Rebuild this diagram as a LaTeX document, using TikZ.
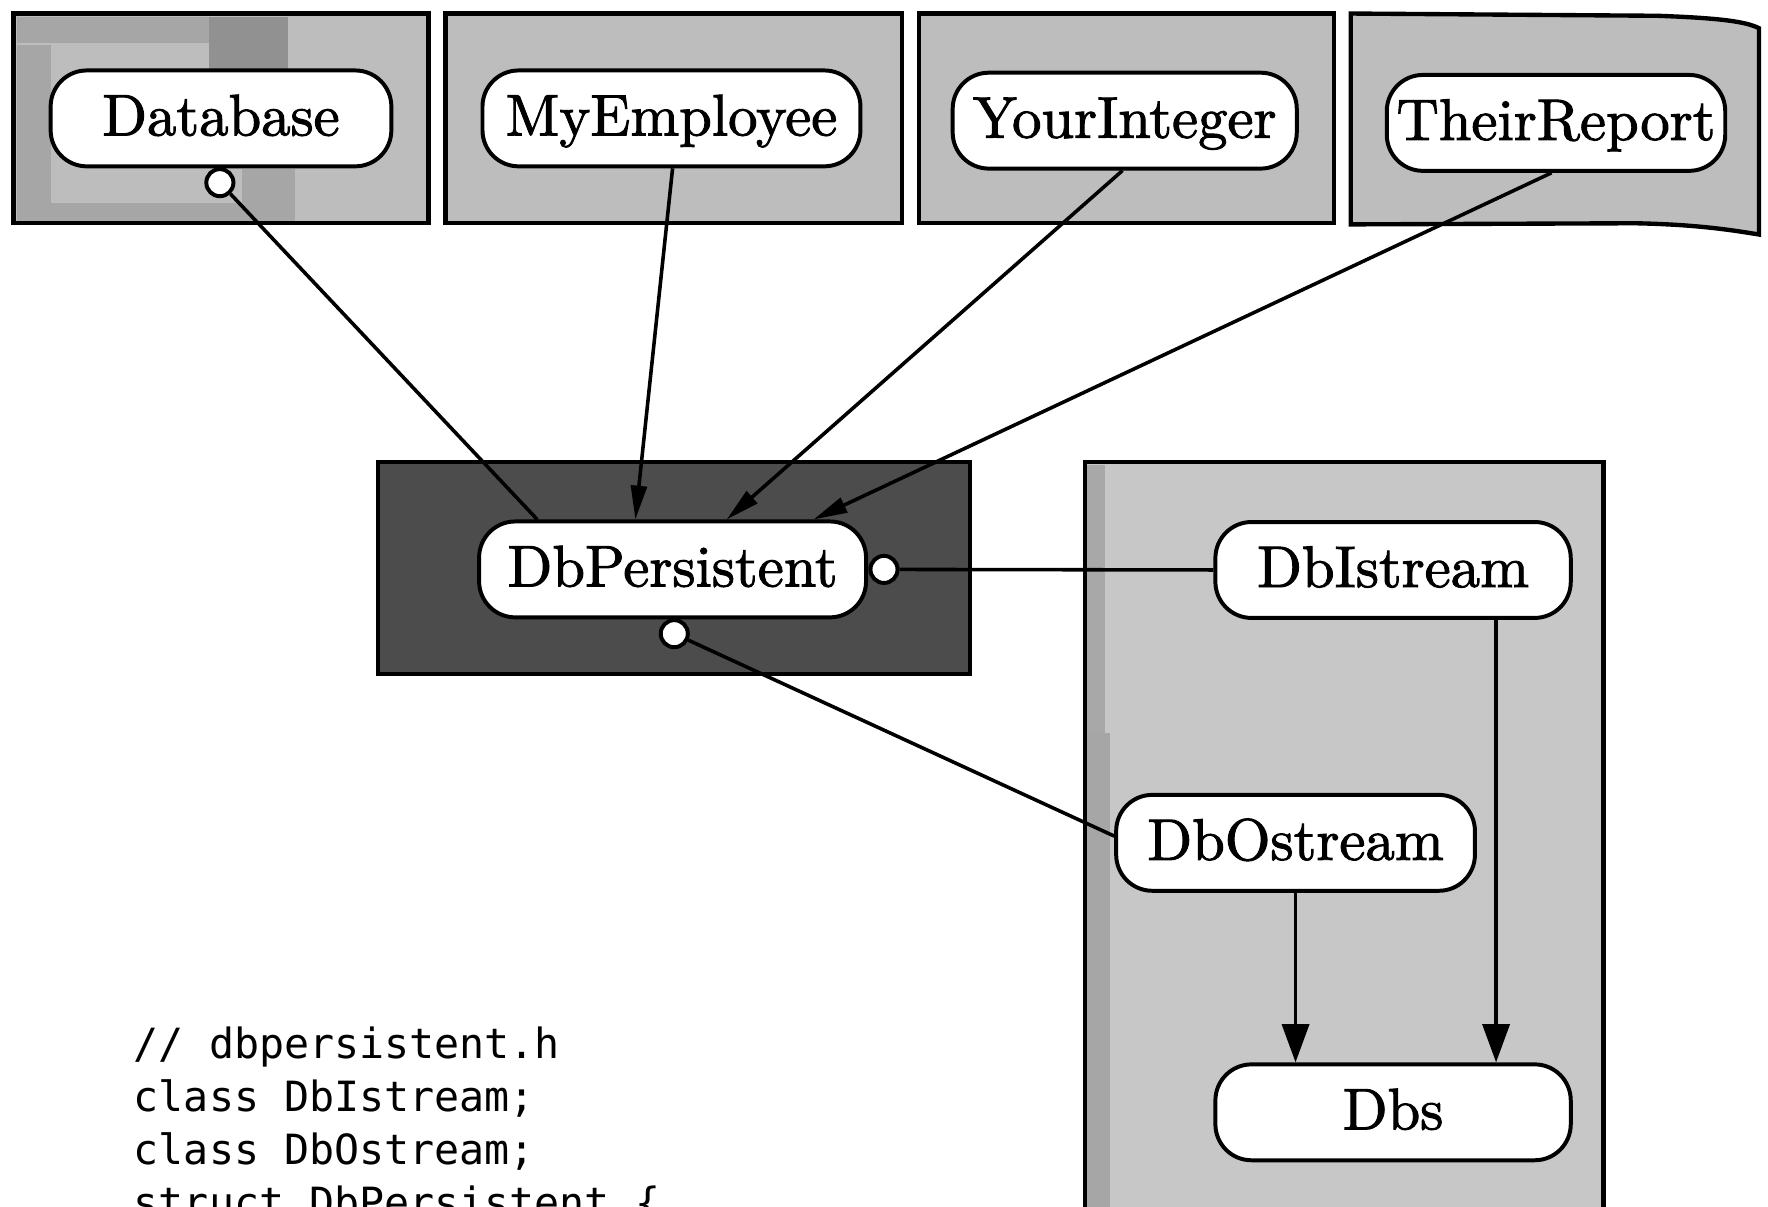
\documentclass[tikz,border=0pt]{standalone}
\usepackage{fontspec}
\newfontfamily\codefont{DejaVu Sans Mono}
\newfontfamily\nodefont[FakeBold=1.6]{lmroman10-regular.otf}
\usetikzlibrary{arrows.meta,calc}
\definecolor{lightbox}{gray}{0.74}
\definecolor{darkbox}{gray}{0.30}
\definecolor{rightbox}{gray}{0.78}
\definecolor{patch}{gray}{0.65}
\definecolor{blob}{gray}{0.57}
\definecolor{band}{gray}{0.66}
\begin{document}
\begin{tikzpicture}[x=0.01cm,y=-0.01cm,
  cls/.style={draw, fill=white, line width=1pt, rounded corners=0.32cm,
    minimum height=0.85cm, inner sep=0pt, text height=11pt, text depth=2.4pt,
    font=\nodefont\fontsize{14.8}{17}\selectfont},
  port/.style={circle, draw, fill=white, line width=1pt, minimum size=0.24cm, inner sep=0pt},
  box/.style={draw, line width=1.1pt},
  link/.style={line width=0.9pt},
  into/.style={link, -{Triangle[length=0.3cm,width=0.14cm]}},
  down/.style={link, -{Triangle[length=0.34cm,width=0.24cm]}},
  code/.style={anchor=base west, inner sep=0pt, font=\codefont\fontsize{10.5}{13}\selectfont}]
\useasboundingbox (0,0) rectangle (1568,1070);
\fill[white] (0,0) rectangle (1568,1070);
\clip (0,0) rectangle (1568,1070);

% ---- background boxes ----
\fill[lightbox] (12,12) rectangle (380,198);
\fill[patch] (15,15) rectangle (250,38);
\fill[blob] (185,15) rectangle (255,62);
\fill[patch] (15,40) rectangle (45,195);
\fill[patch] (15,180) rectangle (260,196);
\fill[patch] (215,150) rectangle (262,196);
\draw[box] (12,12) rectangle (380,198);

\fill[lightbox] (395,12) rectangle (800,198);
\draw[box] (395,12) rectangle (800,198);

\fill[lightbox] (815,12) rectangle (1183,198);
\draw[box] (815,12) rectangle (1183,198);

\filldraw[box, fill=lightbox] (1198,12) -- (1470,14)
  .. controls (1525,16) and (1548,19) .. (1560,25) -- (1560,208)
  .. controls (1530,203) and (1500,199) .. (1450,198) -- (1198,199) -- cycle;

\filldraw[box, fill=darkbox] (335,410) rectangle (860,598);

\fill[rightbox] (962,410) rectangle (1422,1090);
\fill[band] (964,412) rectangle (980,650);
\fill[patch] (964,650) rectangle (984,1090);
\draw[box] (962,1090) -- (962,410) -- (1422,410) -- (1422,1090);

% ---- class nodes ----
\node[cls, minimum width=3.02cm] (db) at (196,105) {Database};
\node[cls, minimum width=3.35cm] (me) at (595.5,105) {MyEmployee};
\node[cls, minimum width=3.05cm] (yi) at (997.5,107) {YourInteger};
\node[cls, minimum width=3.00cm] (tr) at (1380,109) {TheirReport};
\node[cls, minimum width=3.43cm] (dbp) at (596.5,505) {DbPersistent};
\node[cls, minimum width=3.15cm] (dbi) at (1235.5,505.5) {DbIstream};
\node[cls, minimum width=3.18cm] (dbo) at (1149,747.5) {DbOstream};
\node[cls, minimum width=3.15cm] (dbs) at (1235.5,986.5) {Dbs};

% ---- ports ----
\node[port] (dbport) at (195,162) {};
\node[port] (rport) at (784,505) {};
\node[port] (bport) at (598,562) {};

% ---- connectors ----
\draw[link] (dbport) -- ($(dbp.north)+(-120,0)$);
\draw[into] ($(me.south)+(1,0)$) -- ($(dbp.north)+(-33,0)$);
\draw[into] ($(yi.south)+(-2,0)$) -- ($(dbp.north)+(48,0)$);
\draw[into] ($(tr.south)+(-4,0)$) -- ($(dbp.north)+(125,0)$);
\draw[link] (rport) -- (dbi.west);
\draw[link] (bport) -- ($(dbo.west)+(0,-6)$);
\draw[down] (dbo.south) -- (dbo.south |- dbs.north);
\coordinate (iout) at ($(dbi.south east)+(-68,0)$);
\draw[down] (iout) -- (iout |- dbs.north);

% ---- code ----
\node[code] (c1) at (118,939) {// dbpersistent.h};
\node[code] (c2) at (118,986) {class DbIstream;};
\node[code] (c3) at (118,1033) {class DbOstream;};
\node[code] (c4) at (118,1080) {struct DbPersistent \{};
\end{tikzpicture}
\end{document}
